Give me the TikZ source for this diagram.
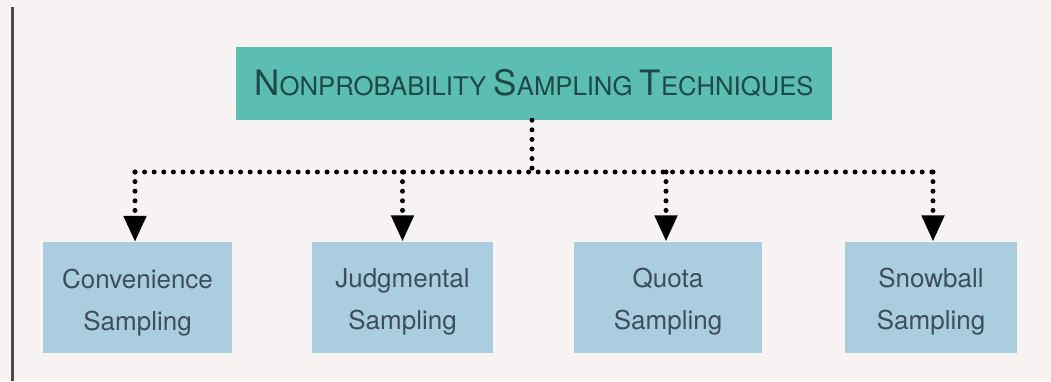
\documentclass[tikz,border=0pt]{standalone}
\usepackage{fontspec}
\setmainfont{TeX Gyre Heros}
\usetikzlibrary{arrows.meta}
\definecolor{pagebg}{HTML}{F7F3F3}
\definecolor{topfill}{HTML}{5CBDB3}
\definecolor{toptext}{HTML}{1D4A47}
\definecolor{boxfill}{HTML}{AACDE0}
\definecolor{boxtext}{HTML}{3D4E5E}
\definecolor{edgeline}{HTML}{4A4A4A}
\tikzset{
  topbox/.style={fill=topfill, text=toptext, minimum width=596pt, minimum height=73pt, inner sep=0pt,
    font=\fontsize{25.7}{35}\selectfont},
  leafbox/.style={fill=boxfill, minimum height=111pt, inner sep=0pt},
  leaftext/.style={text=boxtext, align=center, inner sep=0pt, font=\fontsize{26}{42}\selectfont},
  dotline/.style={line width=5pt, line cap=round, dash pattern=on 0pt off 9.6pt, black},
  dotarrow/.style={dotline, -{Triangle[length=26pt, width=22pt]}}
}
\newcommand{\bigsc}[1]{{\fontsize{35}{35}\selectfont #1}}
\begin{document}
\begin{tikzpicture}[x=1pt, y=-1pt]
  \fill[pagebg] (0,0) rectangle (1051,381);
  \useasboundingbox (0,0) rectangle (1051,381);
  \draw[edgeline, line width=3pt] (12,7) -- (12,381);

  \node[topbox] (top) at (534,83.5) {\bigsc{N}ONPROBABILITY \bigsc{S}AMPLING \bigsc{T}ECHNIQUES};

  \node[leafbox, minimum width=189pt] (b1) at (137.5,297.5) {};
  \node[leafbox, minimum width=181pt] (b2) at (402.5,297) {};
  \node[leafbox, minimum width=188pt] (b3) at (668,297) {};
  \node[leafbox, minimum width=172pt] (b4) at (931,297) {};
  \node[leaftext] (t1) at ([yshift=-5pt]b1.center) {Convenience\\Sampling};
  \node[leaftext] (t2) at ([yshift=-5pt]b2.center) {Judgmental\\Sampling};
  \node[leaftext] (t3) at ([yshift=-5pt]b3.center) {Quota\\Sampling};
  \node[leaftext] (t4) at ([yshift=-5pt]b4.center) {Snowball\\Sampling};

  \coordinate (hl) at (135,172);
  \coordinate (hr) at (933,172);
  \coordinate (hm) at (532,172);
  \coordinate (h3) at (666,172);

  \draw[dotline] (top.south -| hm) -- (hm);
  \draw[dotline] (hl) -- (hr);
  \draw[dotarrow] (hl) -- (b1.north -| hl);
  \draw[dotarrow] (b2.north |- hl) -- (b2.north);
  \draw[dotarrow] (h3) -- (b3.north -| h3);
  \draw[dotarrow] (hr) -- (b4.north -| hr);
\end{tikzpicture}
\end{document}
